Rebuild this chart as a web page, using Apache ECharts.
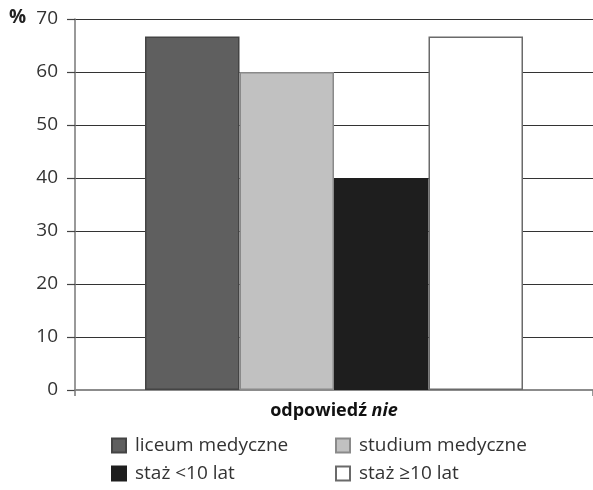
<!DOCTYPE html>
<html>
<head>
<meta charset="utf-8">
<script src="https://cdn.jsdelivr.net/npm/echarts@6/dist/echarts.min.js"></script>
<style>
  html, body { margin: 0; padding: 0; background: #fff; }
  #chart { width: 593px; height: 490px; }
</style>
</head>
<body>
<div id="chart"></div>
<script>
// Share of "nie" answers (%) by group
const categories = ['odpowiedź nie'];
const seriesNames = ['liceum medyczne', 'studium medyczne', 'staż <10 lat', 'staż ≥10 lat'];
const liceumMedyczne = [66.7];
const studiumMedyczne = [60];
const stazPonizej10 = [40];
const stazPowyzej10 = [66.7];
const yTicks = [0, 10, 20, 30, 40, 50, 60, 70];

const values = [liceumMedyczne, studiumMedyczne, stazPonizej10, stazPowyzej10];
const fills = ['#5f5f5f', '#c1c1c1', '#1e1e1e', '#ffffff'];
const borders = ['#444444', '#8a8a8a', '#1e1e1e', '#6a6a6a'];
const FONT = '"Open Sans", Lato, sans-serif';

// legend slots: two columns, two rows
const legendPos = [
  { left: 111, top: 436 }, { left: 335, top: 436 },
  { left: 111, top: 464 }, { left: 335, top: 464 }
];

const chart = echarts.init(document.getElementById('chart'), null, { renderer: 'canvas' });

chart.setOption({
  animation: false,
  backgroundColor: '#ffffff',
  textStyle: { fontFamily: FONT },
  grid: { left: 75, right: 0, top: 19, bottom: 100, containLabel: false },
  graphic: [{
    type: 'text', left: 9, top: 8,
    style: { text: '%', font: 'bold 19px ' + FONT, fill: '#222' }
  }],
  legend: seriesNames.map((name, i) => ({
    data: [name],
    left: legendPos[i].left, top: legendPos[i].top,
    padding: 0,
    itemWidth: 14, itemHeight: 14,
    icon: 'rect',
    textStyle: { fontSize: 19, color: '#333', fontFamily: FONT, padding: [0, 0, 0, 4] }
  })),
  xAxis: {
    type: 'category',
    data: categories,
    axisLine: { show: true, lineStyle: { color: '#8c8c8c', width: 2 } },
    axisTick: { show: true, length: 6, lineStyle: { color: '#777', width: 1.5 } },
    axisLabel: {
      margin: 12,
      formatter: function () { return '{b|odpowiedź }{i|nie}'; },
      rich: {
        b: { fontSize: 18, fontWeight: 'bold', color: '#111', fontFamily: FONT },
        i: { fontSize: 18, fontWeight: 'bold', fontStyle: 'italic', color: '#111', fontFamily: FONT }
      }
    }
  },
  yAxis: {
    type: 'value',
    min: yTicks[0], max: yTicks[yTicks.length - 1], interval: 10,
    axisLine: { show: true, lineStyle: { color: '#777', width: 1.5 } },
    axisTick: { show: true, length: 8, lineStyle: { color: '#444', width: 1.2 } },
    axisLabel: { margin: 17, fontSize: 19, color: '#333', fontFamily: FONT },
    splitLine: { show: true, lineStyle: { color: '#333', width: 1.2 } }
  },
  series: seriesNames.map((name, i) => ({
    name: name,
    type: 'bar',
    data: values[i],
    barWidth: 94.5,
    barGap: '0%',
    itemStyle: { color: fills[i], borderColor: borders[i], borderWidth: 1.5 }
  }))
});
</script>
</body>
</html>
